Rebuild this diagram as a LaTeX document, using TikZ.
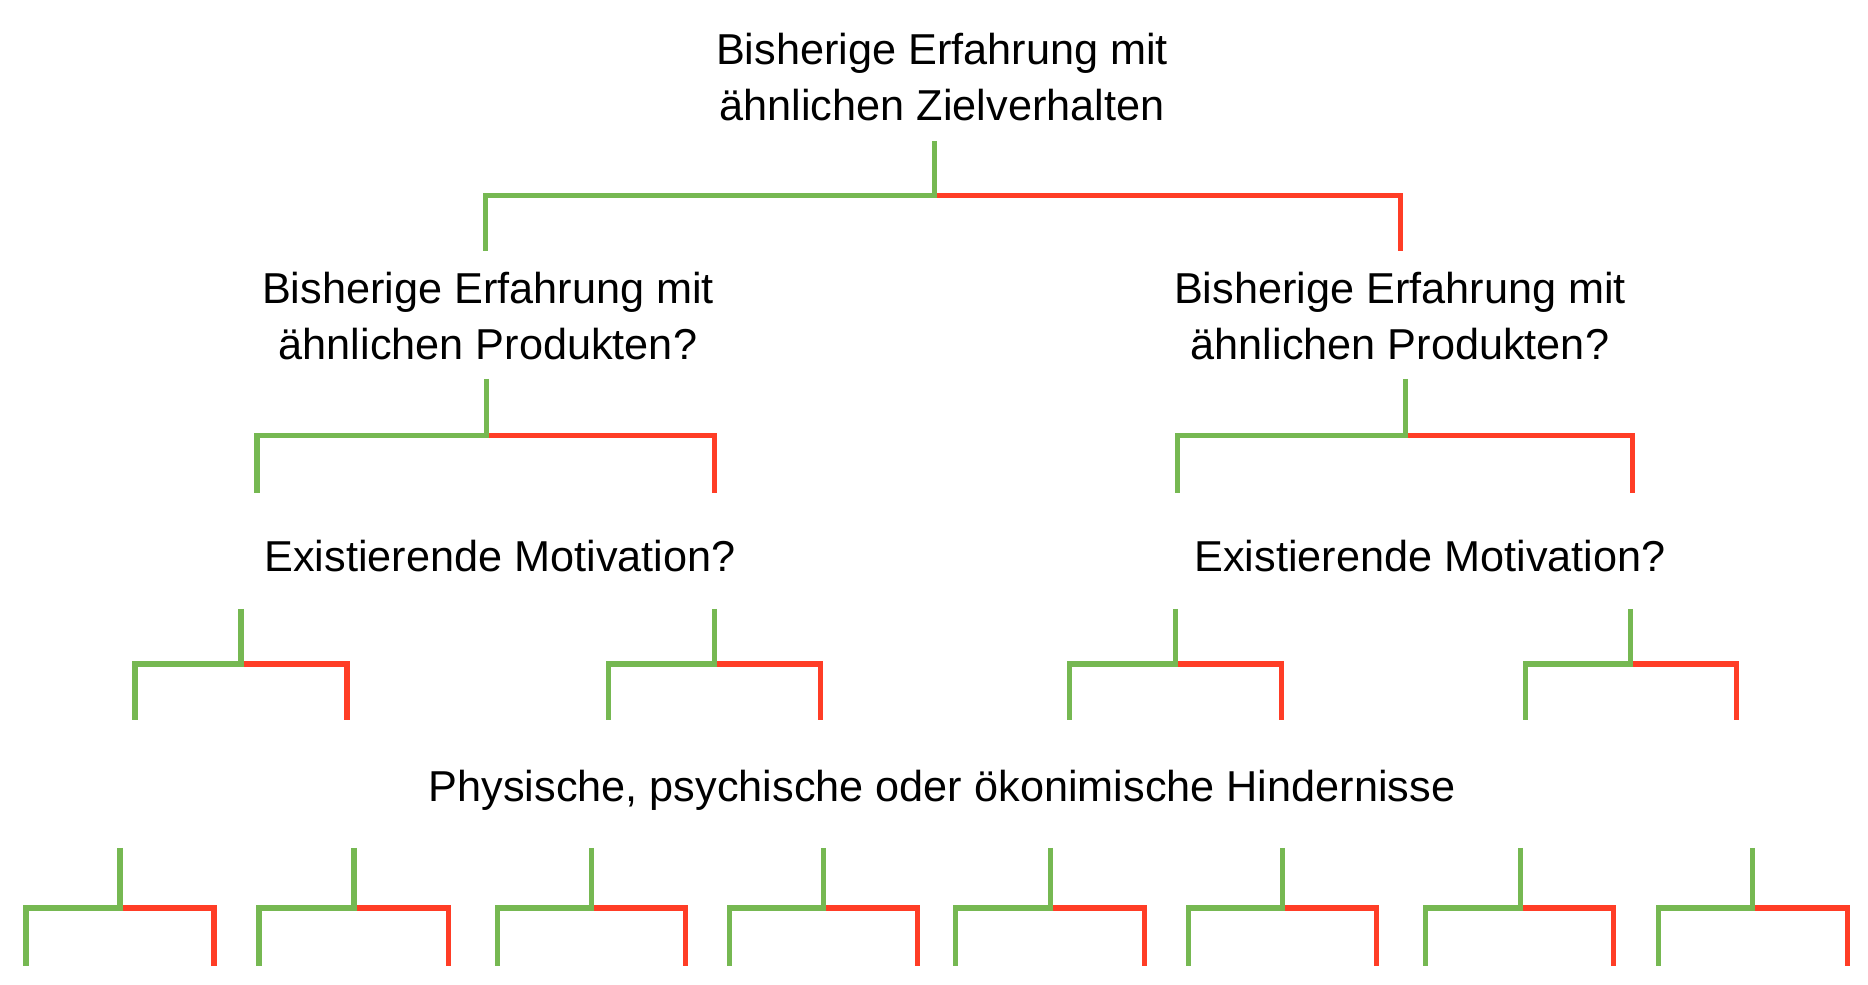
\documentclass[tikz,border=0pt]{standalone}
\usepackage{fontspec}
\setmainfont{Liberation Sans}
\definecolor{jagruen}{HTML}{76B852}
\definecolor{neinrot}{HTML}{FF3D26}
\tikzset{
  frage/.style={align=center, inner sep=0pt, font=\fontsize{12.3}{15.9}\selectfont},
  ja/.style={draw=jagruen, line width=0.05cm},
  nein/.style={draw=neinrot, line width=0.05cm}
}
% Gabel: #1 Stiel x, #2 links x, #3 rechts x, #4 oben y, #5 Mitte y, #6 unten y
\newcommand{\gabel}[6]{
  \coordinate (stiel) at (#1,#4);
  \coordinate (knick) at (#1,#5);
  \coordinate (links) at (#2,#6);
  \coordinate (rechts) at (#3,#6);
  \draw[nein] (knick) -| (rechts);
  \draw[ja] (stiel) -- (knick) -| (links);
}

\begin{document}
\begin{tikzpicture}[x=0.01cm, y=-0.01cm]
\useasboundingbox (0,0) rectangle (1868,985);

\node[frage] (wurzel) at (942,77) {Bisherige Erfahrung mit\\ähnlichen Zielverhalten};
\node[frage] (prodL) at (488,316) {Bisherige Erfahrung mit\\ähnlichen Produkten?};
\node[frage] (prodR) at (1400,316) {Bisherige Erfahrung mit\\ähnlichen Produkten?};
\node[frage] (motL) at (500,556) {Existierende Motivation?};
\node[frage] (motR) at (1430,556) {Existierende Motivation?};
\node[frage] (hind) at (942,790) {Physische, psychische oder ökonimische Hindernisse};

% Ebene 1
\gabel{934}{485}{1400}{141}{196}{251}
% Ebene 2
\gabel{486}{257}{714}{379}{436}{493}
\gabel{1405}{1177}{1632}{379}{436}{493}
% Ebene 3
\foreach \s/\l/\r in {241/135/347, 714/608/820, 1175/1069/1281, 1630/1525/1736}
  \gabel{\s}{\l}{\r}{609}{664}{720};
% Ebene 4
\foreach \s/\l/\r in {120/26/214, 354/259/448, 591/497/685, 823/729/917,
                      1050/955/1144, 1282/1188/1376, 1520/1425/1613, 1752/1658/1847}
  \gabel{\s}{\l}{\r}{848}{908}{966};
\end{tikzpicture}
\end{document}
